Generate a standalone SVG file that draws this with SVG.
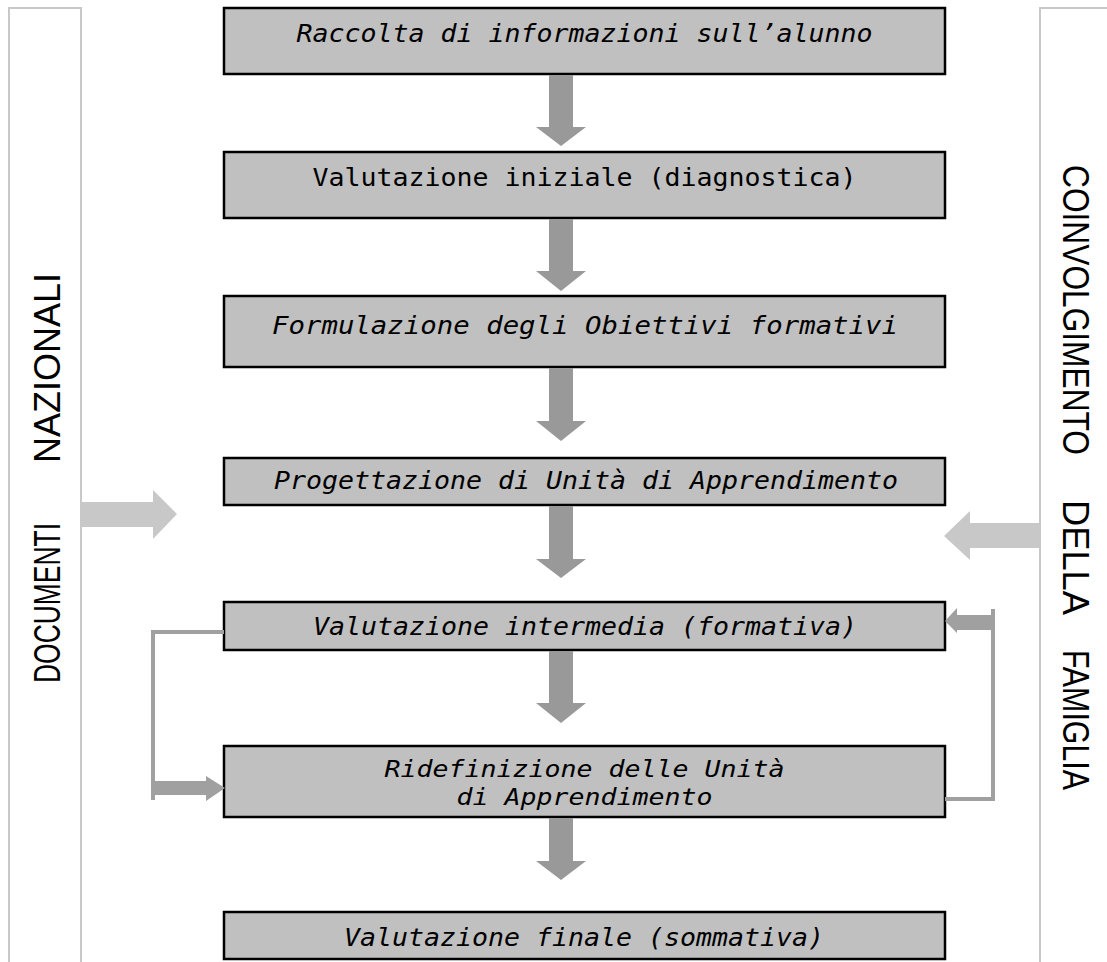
<svg xmlns="http://www.w3.org/2000/svg" width="1107" height="962" viewBox="0 0 1107 962">
<defs>
<style>
.box{fill:#c0c0c0;stroke:#000;stroke-width:2.5}
.panel{fill:#fff;stroke:#c8c8c8;stroke-width:2}
.t{font-family:"DejaVu Sans Mono","Liberation Mono",monospace;font-size:24.5px;fill:#000;text-anchor:middle}
.t2{font-size:23px}
.it{font-style:italic}
.side{font-family:"Liberation Sans","DejaVu Sans",sans-serif;font-size:37px;fill:#000}
.down{fill:#999999}
.big{fill:#c8c8c8}
.loop{fill:none;stroke:#a0a0a0;stroke-width:4}
.loopf{fill:#a0a0a0}
</style>
</defs>
<rect width="1107" height="962" fill="#fff"/>
<g id="panel-left">
<rect class="panel" x="9" y="8" width="72" height="980"/>
<g transform="translate(60,683) rotate(-90)">
<text class="side" x="0" y="0" textLength="160" lengthAdjust="spacingAndGlyphs">DOCUMENTI</text>
<text class="side" x="220" y="0" textLength="190" lengthAdjust="spacingAndGlyphs">NAZIONALI</text>
</g>
</g>
<g id="panel-right">
<rect class="panel" x="1040" y="8" width="90" height="980"/>
<g transform="translate(1063,165) rotate(90)">
<text class="side" x="0" y="0" textLength="290" lengthAdjust="spacingAndGlyphs">COINVOLGIMENTO</text>
<text class="side" x="335" y="0" textLength="115" lengthAdjust="spacingAndGlyphs">DELLA</text>
<text class="side" x="485" y="0" textLength="140" lengthAdjust="spacingAndGlyphs">FAMIGLIA</text>
</g>
</g>
<g id="n1"><rect class="box" x="224" y="8" width="721" height="66"/>
<text class="t it" x="584.5" y="42" textLength="576" lengthAdjust="spacingAndGlyphs">Raccolta di informazioni sull’alunno</text></g>
<g id="n2"><rect class="box" x="224" y="152" width="721" height="66"/>
<text class="t" x="584.5" y="186" textLength="544" lengthAdjust="spacingAndGlyphs">Valutazione iniziale (diagnostica)</text></g>
<g id="n3"><rect class="box" x="224" y="296" width="721" height="71"/>
<text class="t it" x="585" y="334" textLength="626" lengthAdjust="spacingAndGlyphs">Formulazione degli Obiettivi formativi</text></g>
<g id="n4"><rect class="box" x="224" y="458" width="721" height="47"/>
<text class="t it" x="586" y="489" textLength="624" lengthAdjust="spacingAndGlyphs">Progettazione di Unità di Apprendimento</text></g>
<g id="n5"><rect class="box" x="224" y="602" width="721" height="48"/>
<text class="t it" x="585" y="635" textLength="544" lengthAdjust="spacingAndGlyphs">Valutazione intermedia (formativa)</text></g>
<g id="n6"><rect class="box" x="224" y="746" width="721" height="71"/>
<text class="t t2 it" x="584.5" y="777" textLength="400" lengthAdjust="spacingAndGlyphs">Ridefinizione delle Unità</text>
<text class="t t2 it" x="584.5" y="805" textLength="256" lengthAdjust="spacingAndGlyphs">di Apprendimento</text></g>
<g id="n7"><rect class="box" x="224" y="912" width="721" height="47"/>
<text class="t it" x="584" y="946" textLength="480" lengthAdjust="spacingAndGlyphs">Valutazione finale (sommativa)</text></g>
<g id="connectors">
<polygon class="down" points="549,75 573,75 573,127 586,127 561,146 536,127 549,127"/>
<polygon class="down" points="549,219 573,219 573,271 586,271 561,291 536,271 549,271"/>
<polygon class="down" points="549,368 573,368 573,421 586,421 561,441 536,421 549,421"/>
<polygon class="down" points="549,506 573,506 573,559 586,559 561,578 536,559 549,559"/>
<polygon class="down" points="549,651 573,651 573,703 586,703 561,723 536,703 549,703"/>
<polygon class="down" points="549,818 573,818 573,861 586,861 561,880 536,861 549,861"/>
<polygon class="big" points="81,502 153,502 153,490 177,514 153,539 153,527 81,527"/>
<polygon class="big" points="1040,523 970,523 970,511 944,536 970,560 970,548 1040,548"/>
<polyline class="loop" points="224,632 153,632 153,800"/>
<polygon class="loopf" points="155,781 206,781 206,776 225,788 206,801 206,795 155,795"/>
<polyline class="loop" points="945,799 993,799 993,609"/>
<polygon class="loopf" points="991,615 957,615 957,608 945,621 957,633 957,630 991,630"/>
</g>
</svg>
